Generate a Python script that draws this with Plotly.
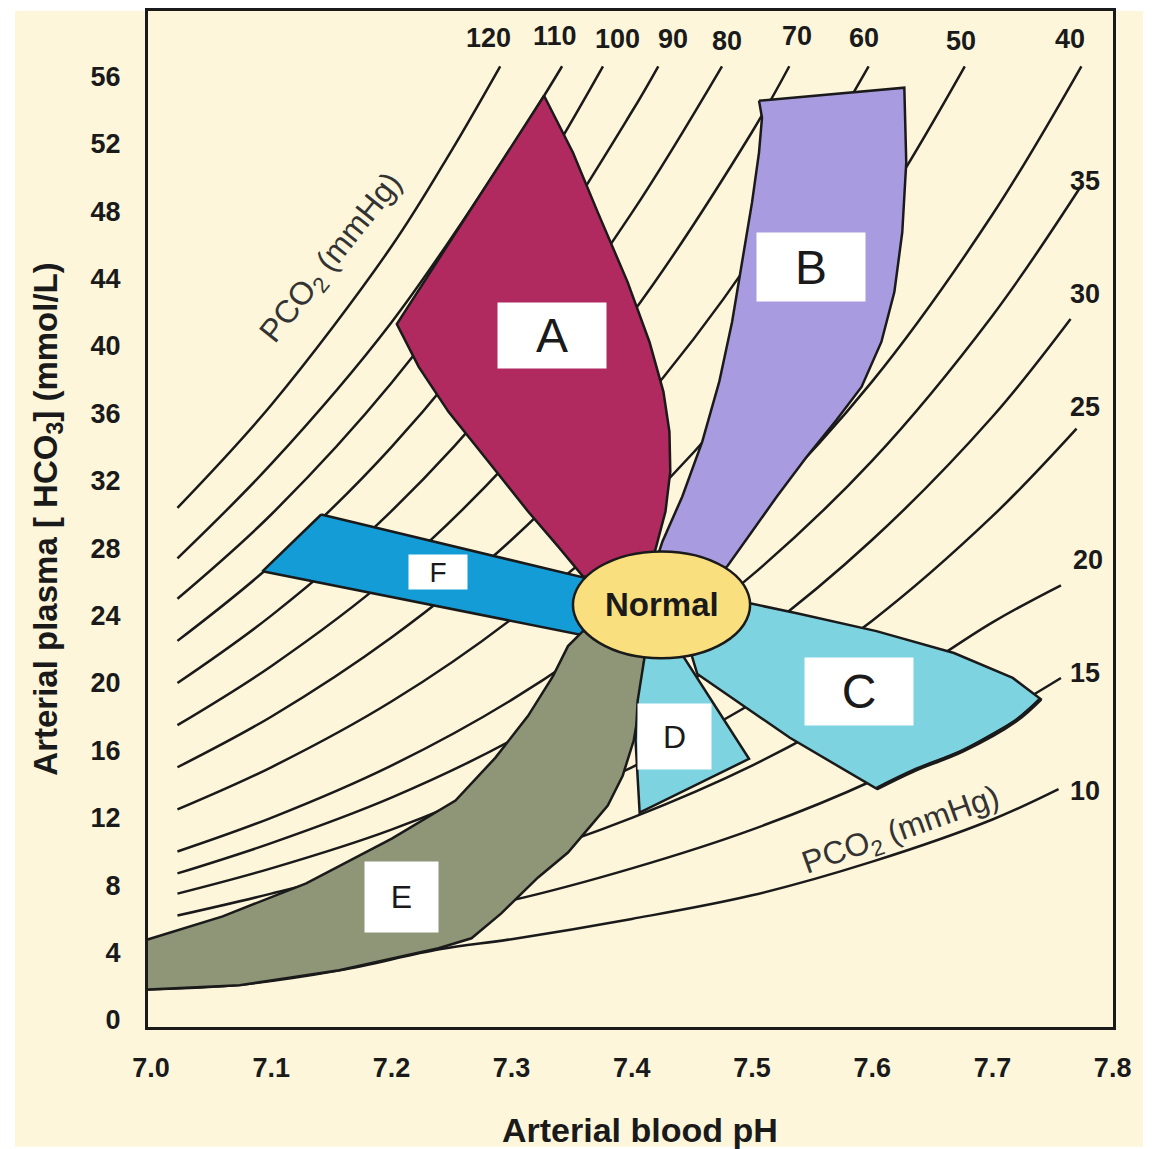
import plotly.graph_objects as go

# ---------------- data ----------------
PCO2_LEVELS = [120, 110, 100, 90, 80, 70, 60, 50, 40, 35, 30, 25, 20, 15, 10]

ISO_120_PH = [7.022, 7.1, 7.2, 7.25, 7.2905]
ISO_120_HCO3 = [30.4, 36.5, 45.9, 51.6, 56.6]
ISO_110_PH = [7.022, 7.1, 7.2, 7.3, 7.342]
ISO_110_HCO3 = [27.4, 33.0, 41.4, 51.8, 56.6]
ISO_100_PH = [7.022, 7.1, 7.2, 7.3, 7.376]
ISO_100_HCO3 = [25.0, 30.0, 37.8, 47.5, 56.6]
ISO_90_PH = [7.022, 7.1, 7.2, 7.3, 7.4, 7.422]
ISO_90_HCO3 = [22.5, 27.0, 34.0, 42.8, 53.9, 56.6]
ISO_80_PH = [7.022, 7.1, 7.2, 7.3, 7.4, 7.475]
ISO_80_HCO3 = [20.0, 24.0, 30.2, 38.0, 47.9, 56.6]
ISO_70_PH = [7.022, 7.1, 7.2, 7.3, 7.4, 7.5, 7.531]
ISO_70_HCO3 = [17.5, 21.0, 26.4, 33.3, 41.9, 52.7, 56.6]
ISO_60_PH = [7.022, 7.1, 7.2, 7.3, 7.4, 7.5, 7.597]
ISO_60_HCO3 = [15.0, 18.0, 22.7, 28.5, 35.9, 45.2, 56.6]
ISO_50_PH = [7.022, 7.1, 7.2, 7.3, 7.4, 7.5, 7.6, 7.677]
ISO_50_HCO3 = [12.5, 15.0, 18.9, 23.8, 29.9, 37.7, 47.4, 56.6]
ISO_40_PH = [7.022, 7.1, 7.2, 7.3, 7.4, 7.5, 7.6, 7.7, 7.774]
ISO_40_HCO3 = [10.0, 12.0, 15.1, 19.0, 23.9, 30.1, 37.9, 47.8, 56.6]
ISO_35_PH = [7.022, 7.1, 7.2, 7.3, 7.4, 7.5, 7.6, 7.7, 7.772]
ISO_35_HCO3 = [8.7, 10.5, 13.2, 16.6, 20.9, 26.4, 33.2, 41.8, 49.3]
ISO_30_PH = [7.022, 7.1, 7.2, 7.3, 7.4, 7.5, 7.6, 7.7, 7.765]
ISO_30_HCO3 = [7.5, 9.0, 11.3, 14.3, 18.0, 22.6, 28.5, 35.8, 41.6]
ISO_25_PH = [7.022, 7.1, 7.2, 7.3, 7.4, 7.5, 7.6, 7.7, 7.77]
ISO_25_HCO3 = [6.2, 7.5, 9.4, 11.9, 15.0, 18.8, 23.7, 29.9, 35.1]
ISO_20_PH = [7.022, 7.1, 7.2, 7.3, 7.4, 7.5, 7.6, 7.7, 7.757]
ISO_20_HCO3 = [5.0, 6.0, 7.6, 9.5, 12.0, 15.1, 19.0, 23.6, 25.8]
ISO_15_PH = [7.022, 7.1, 7.2, 7.3, 7.4, 7.5, 7.6, 7.7, 7.757]
ISO_15_HCO3 = [3.7, 4.5, 5.7, 7.1, 9.0, 11.3, 14.2, 17.9, 20.3]
ISO_10_PH = [6.99, 7.074, 7.157, 7.24, 7.3, 7.4, 7.5, 7.6, 7.7, 7.755]
ISO_10_HCO3 = [1.8, 2.1, 2.95, 4.2, 4.8, 6.0, 7.4, 9.4, 11.9, 13.7]

# Region outlines (pH, HCO3)
A_PH = [7.327, 7.2045, 7.2227, 7.2475, 7.2806, 7.3137, 7.3386, 7.3593, 7.4048,
        7.4197, 7.428, 7.432, 7.4313, 7.4263, 7.4147, 7.3965, 7.3717, 7.351]
A_HCO3 = [54.85, 41.30, 38.76, 36.09, 33.14, 30.18, 28.11, 26.33, 25.74,
          27.93, 30.18, 32.54, 34.91, 37.28, 40.24, 43.79, 47.93, 51.48]

B_PH = [7.5058, 7.6267, 7.6283, 7.625, 7.6184, 7.6076, 7.5911, 7.5704, 7.5455,
        7.5207, 7.5, 7.4793, 7.4545, 7.4214, 7.4255, 7.442, 7.4586, 7.4727,
        7.4834, 7.4917, 7.5, 7.5058, 7.5083]
B_HCO3 = [54.56, 55.33, 50.89, 46.75, 43.20, 40.24, 37.57, 35.62, 33.43,
          31.07, 28.99, 26.92, 25.44, 27.51, 28.40, 31.07, 34.32, 37.87,
          41.42, 44.97, 48.52, 51.48, 53.55]

C_PH = [7.4983, 7.5373, 7.6035, 7.668, 7.7169, 7.7401, 7.7194, 7.6755, 7.6341,
        7.6035, 7.5315, 7.4545, 7.4462, 7.4793]
C_HCO3 = [24.73, 24.14, 23.08, 21.78, 20.30, 19.05, 17.75, 15.98, 14.79,
          13.73, 16.75, 20.53, 22.49, 24.56]

D_PH = [7.4114, 7.4048, 7.4031, 7.4048, 7.4065, 7.4975, 7.4437, 7.428]
D_HCO3 = [21.89, 18.93, 16.57, 14.20, 12.31, 15.50, 21.48, 22.49]

E_PH = [6.99, 7.0596, 7.1291, 7.2003, 7.2533, 7.2864, 7.3137, 7.3344, 7.3469,
        7.3593, 7.3882, 7.4106, 7.4073, 7.4015, 7.3924, 7.38, 7.3659, 7.3469,
        7.322, 7.2914, 7.2666, 7.2392, 7.1565, 7.0737, 6.99]
E_HCO3 = [4.62, 6.15, 8.11, 10.77, 13.02, 15.56, 18.05, 20.41, 22.19,
          23.08, 22.49, 21.60, 18.93, 16.57, 14.50, 12.72, 11.54, 9.94,
          8.46, 6.33, 4.85, 4.26, 2.96, 2.07, 1.78]

F_PH = [7.1416, 7.0927, 7.3634, 7.3882, 7.3593]
F_HCO3 = [30.0, 26.63, 22.78, 24.26, 26.27]

NORMAL_PH = 7.4247
NORMAL_HCO3 = 24.64
NORMAL_PH_HALF = 0.0737
NORMAL_HCO3_HALF = 3.17

X_TICKS = [7.0, 7.1, 7.2, 7.3, 7.4, 7.5, 7.6, 7.7, 7.8]
Y_TICKS = [0, 4, 8, 12, 16, 20, 24, 28, 32, 36, 40, 44, 48, 52, 56]

ISO_PH = [ISO_120_PH, ISO_110_PH, ISO_100_PH, ISO_90_PH, ISO_80_PH, ISO_70_PH,
          ISO_60_PH, ISO_50_PH, ISO_40_PH, ISO_35_PH, ISO_30_PH, ISO_25_PH,
          ISO_20_PH, ISO_15_PH, ISO_10_PH]
ISO_HCO3 = [ISO_120_HCO3, ISO_110_HCO3, ISO_100_HCO3, ISO_90_HCO3, ISO_80_HCO3,
            ISO_70_HCO3, ISO_60_HCO3, ISO_50_HCO3, ISO_40_HCO3, ISO_35_HCO3,
            ISO_30_HCO3, ISO_25_HCO3, ISO_20_HCO3, ISO_15_HCO3, ISO_10_HCO3]

# ---------------- styling ----------------
BG = "#FDF6DB"
INK = "#1a1a1a"
FONT = "Liberation Sans, Arial, sans-serif"

fig = go.Figure()

for lvl, xs, ys in zip(PCO2_LEVELS, ISO_PH, ISO_HCO3):
    fig.add_trace(go.Scatter(x=xs, y=ys, mode="lines",
                             line=dict(color=INK, width=2.5, shape="spline", smoothing=1.0),
                             hoverinfo="skip", showlegend=False, name=f"PCO2 {lvl}"))

regions = [
    (F_PH, F_HCO3, "#149CD6"),
    (E_PH, E_HCO3, "#8E9677"),
    (A_PH, A_HCO3, "#B0295F"),
    (B_PH, B_HCO3, "#A99BE0"),
    (C_PH, C_HCO3, "#7DD3E0"),
    (D_PH, D_HCO3, "#7DD3E0"),
]
for xs, ys, col in regions:
    fig.add_trace(go.Scatter(x=xs + xs[:1], y=ys + ys[:1], mode="lines", fill="toself",
                             fillcolor=col, line=dict(color=INK, width=2.5),
                             hoverinfo="skip", showlegend=False))

# heavier lower-right edge of region C
fig.add_trace(go.Scatter(x=C_PH[5:10], y=C_HCO3[5:10], mode="lines",
                         line=dict(color=INK, width=4, shape="spline"),
                         hoverinfo="skip", showlegend=False))

# cream page panel (the picture has a thin white border)
fig.add_shape(type="rect", xref="paper", yref="paper", layer="below",
              x0=-0.1378, x1=1.0311, y0=-0.1178, y1=1.0,
              fillcolor=BG, line=dict(width=0))

fig.add_shape(type="circle", xref="x", yref="y", layer="above",
              x0=NORMAL_PH - NORMAL_PH_HALF, x1=NORMAL_PH + NORMAL_PH_HALF,
              y0=NORMAL_HCO3 - NORMAL_HCO3_HALF, y1=NORMAL_HCO3 + NORMAL_HCO3_HALF,
              fillcolor="#F9DF7D", line=dict(color=INK, width=2.5))

ann = []
ann.append(dict(x=NORMAL_PH, y=NORMAL_HCO3, text="<b>Normal</b>", showarrow=False,
                font=dict(family=FONT, size=33, color=INK)))

# letter boxes: (text, pH, HCO3, w, h, size)
letter_boxes = [
    ("A", 7.3335, 40.6, 108, 65, 48),
    ("B", 7.5488, 44.7, 108, 68, 48),
    ("C", 7.5886, 19.5, 108, 67, 48),
    ("D", 7.4354, 16.8, 73, 65, 32),
    ("E", 7.2085, 7.3, 73, 70, 32),
    ("F", 7.2384, 26.6, 58, 34, 28),
]
for t, px, hy, w, h, s in letter_boxes:
    ann.append(dict(x=px, y=hy, text=t, showarrow=False, width=w, height=h,
                    bgcolor="white", borderpad=0, valign="middle",
                    font=dict(family=FONT, size=s, color=INK)))

# PCO2 value labels (text from PCO2_LEVELS)
label_pos = [(7.2806, 58.3), (7.336, 58.4), (7.388, 58.2), (7.4346, 58.2), (7.4793, 58.1),
             (7.5373, 58.4), (7.5935, 58.3), (7.6738, 58.1), (7.7649, 58.2),
             (7.7773, 49.8), (7.7773, 43.1), (7.7773, 36.4), (7.7798, 27.3),
             (7.7773, 20.6), (7.7773, 13.6)]
for lvl, (px, hy) in zip(PCO2_LEVELS, label_pos):
    ann.append(dict(x=px, y=hy, text=str(lvl), showarrow=False,
                    font=dict(family=FONT, size=27, color=INK, weight="bold")))

ann.append(dict(x=7.1507, y=45.2, text="PCO<sub>2</sub> (mmHg)", showarrow=False,
                textangle=-51.5, font=dict(family=FONT, size=32, color="#333333")))
ann.append(dict(x=7.6242, y=11.2, text="PCO<sub>2</sub> (mmHg)", showarrow=False,
                textangle=-19.5, font=dict(family=FONT, size=32, color="#333333")))

# x-axis title (placed slightly right of the plot centre, as in the picture)
ann.append(dict(xref="paper", yref="paper", x=0.5098, y=-0.101, text="Arterial blood pH",
                showarrow=False, xanchor="center", yanchor="middle",
                font=dict(family=FONT, size=34, color=INK, weight="bold")))

fig.update_layout(
    width=1145, height=1141,
    margin=dict(l=140, r=40, t=0, b=122),
    paper_bgcolor="white", plot_bgcolor=BG,
    showlegend=False,
    annotations=ann,
    font=dict(family=FONT, color=INK),
)
fig.update_xaxes(range=[6.9975, 7.8003], tickvals=X_TICKS, ticktext=[f"{v:.1f}" for v in X_TICKS],
                 showgrid=False, zeroline=False, showline=True, mirror=True,
                 linecolor=INK, linewidth=3, ticks="", ticklabelstandoff=15,
                 tickfont=dict(family=FONT, size=27, color=INK, weight="bold"))
fig.update_yaxes(range=[-0.414, 59.88], tickvals=Y_TICKS, ticktext=[str(v) for v in Y_TICKS],
                 showgrid=False, zeroline=False, showline=True, mirror=True,
                 linecolor=INK, linewidth=3, ticks="", ticklabelstandoff=19,
                 tickfont=dict(family=FONT, size=27, color=INK, weight="bold"),
                 title=dict(text="Arterial plasma [ HCO<sub>3</sub>] (mmol/L)", standoff=24,
                            font=dict(family=FONT, size=33, color=INK, weight="bold")))

fig.write_html("out.html")
